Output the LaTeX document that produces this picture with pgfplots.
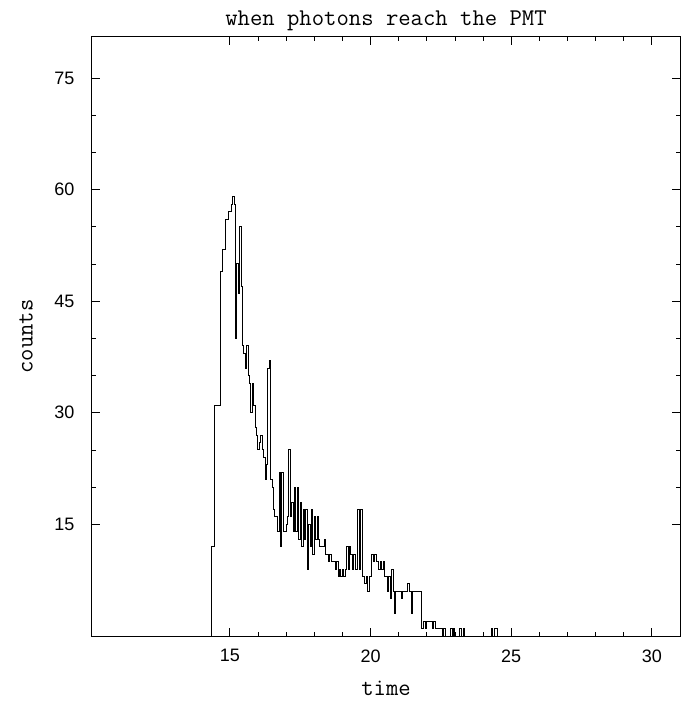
\documentclass[border=0pt]{standalone}
\usepackage{fontspec}
\usepackage{pgfplots}
\pgfplotsset{compat=1.18}
\newfontfamily\ticksf{Liberation Sans}
\pgfplotstableread{
t c
14.35 0
14.35 12
14.40 12
14.45 31
14.50 31
14.55 31
14.60 31
14.65 49
14.70 49
14.75 52
14.80 52
14.85 56
14.90 56
14.95 57
15.00 57
15.05 58
15.10 59
15.15 58
15.20 40
15.25 50
15.30 46
15.35 55
15.40 47
15.45 39
15.50 38
15.55 36
15.60 39
15.65 35
15.70 34
15.75 30
15.80 34
15.85 31
15.90 28
15.95 27
16.00 25
16.05 26
16.10 27
16.15 25
16.20 24
16.25 21
16.30 23
16.35 36
16.40 37
16.45 21
16.50 20
16.55 17
16.60 16
16.65 16
16.70 14
16.75 22
16.80 12
16.85 22
16.90 14
16.95 14
17.00 15
17.05 16
17.10 25
17.15 16
17.20 18
17.25 14
17.30 20
17.35 14
17.40 20
17.45 13
17.50 18
17.55 12
17.60 17
17.65 13
17.70 17
17.75 9
17.80 15
17.85 12
17.90 17
17.95 11
18.00 16
18.05 13
18.10 16
18.15 13
18.20 12
18.25 12
18.30 12
18.35 13
18.40 11
18.45 11
18.50 10
18.55 11
18.60 10
18.65 10
18.70 10
18.75 9
18.80 10
18.85 8
18.90 9
18.95 8
19.00 9
19.05 8
19.10 9
19.15 12
19.20 9
19.25 12
19.30 11
19.35 9
19.40 11
19.45 9
19.50 9
19.55 17
19.60 9
19.65 17
19.70 8
19.75 8
19.80 7
19.85 8
19.90 6
19.95 8
20.00 8
20.05 11
20.10 10
20.15 11
20.20 10
20.25 10
20.30 9
20.35 10
20.40 9
20.45 10
20.50 8
20.55 8
20.60 6
20.65 8
20.70 5
20.75 9
20.80 6
20.85 3
20.90 6
20.95 6
21.00 6
21.05 6
21.10 5
21.15 6
21.20 6
21.25 6
21.30 7
21.35 7
21.40 6
21.45 3
21.50 6
21.55 6
21.60 6
21.65 6
21.70 6
21.75 6
21.80 1
21.85 1
21.90 2
21.95 1
22.00 2
22.05 2
22.10 2
22.15 2
22.20 1
22.25 2
22.30 1
22.35 1
22.40 1
22.45 1
22.50 1
22.55 0
22.60 1
22.65 0
22.70 0
22.75 0
22.80 0
22.85 1
22.90 0
22.95 1
23.00 0
23.05 0
23.10 0
23.15 1
23.20 1
23.25 0
23.30 1
23.35 0
23.40 0
23.45 0
23.50 0
24.30 1
24.35 0
24.40 1
24.45 1
24.50 0
24.55 0
}\hist
\begin{document}
\begin{tikzpicture}
\path[use as bounding box] (-92pt,-67pt) rectangle (601pt,636pt);
\begin{axis}[
  scale only axis, width=588pt, height=599pt,
  xmin=10.1, xmax=31, ymin=0, ymax=80.5,
  xtick={15,20,25,30}, ytick={15,30,45,60,75},
  minor x tick num=4, minor y tick num=2,
  tick align=inside, major tick length=8pt, minor tick length=4.5pt,
  axis line style={line width=1pt},
  every tick/.style={black, line width=0.8pt},
  /pgf/number format/assume math mode=true,
  ticklabel style={font=\ticksf\fontsize{18}{18}\selectfont},
  xticklabel style={yshift=-10pt},
  yticklabel style={xshift=-14pt},
  title={when photons reach the PMT},
  every axis title/.style={at={(axis description cs:0.5,1)}, anchor=south, yshift=6pt, inner sep=0pt, font=\ttfamily\fontsize{24}{24}\selectfont},
  xlabel={time},
  every axis x label/.style={at={(axis description cs:0.5,0)}, anchor=center, yshift=-52pt, font=\ttfamily\fontsize{24}{24}\selectfont},
  ylabel={counts},
  every axis y label/.style={at={(axis description cs:0,0.5)}, anchor=center, rotate=90, yshift=66pt, font=\ttfamily\fontsize{24}{24}\selectfont},
]
\addplot[const plot mark left, black, line width=1pt] table {\hist};
\end{axis}
\end{tikzpicture}
\end{document}
